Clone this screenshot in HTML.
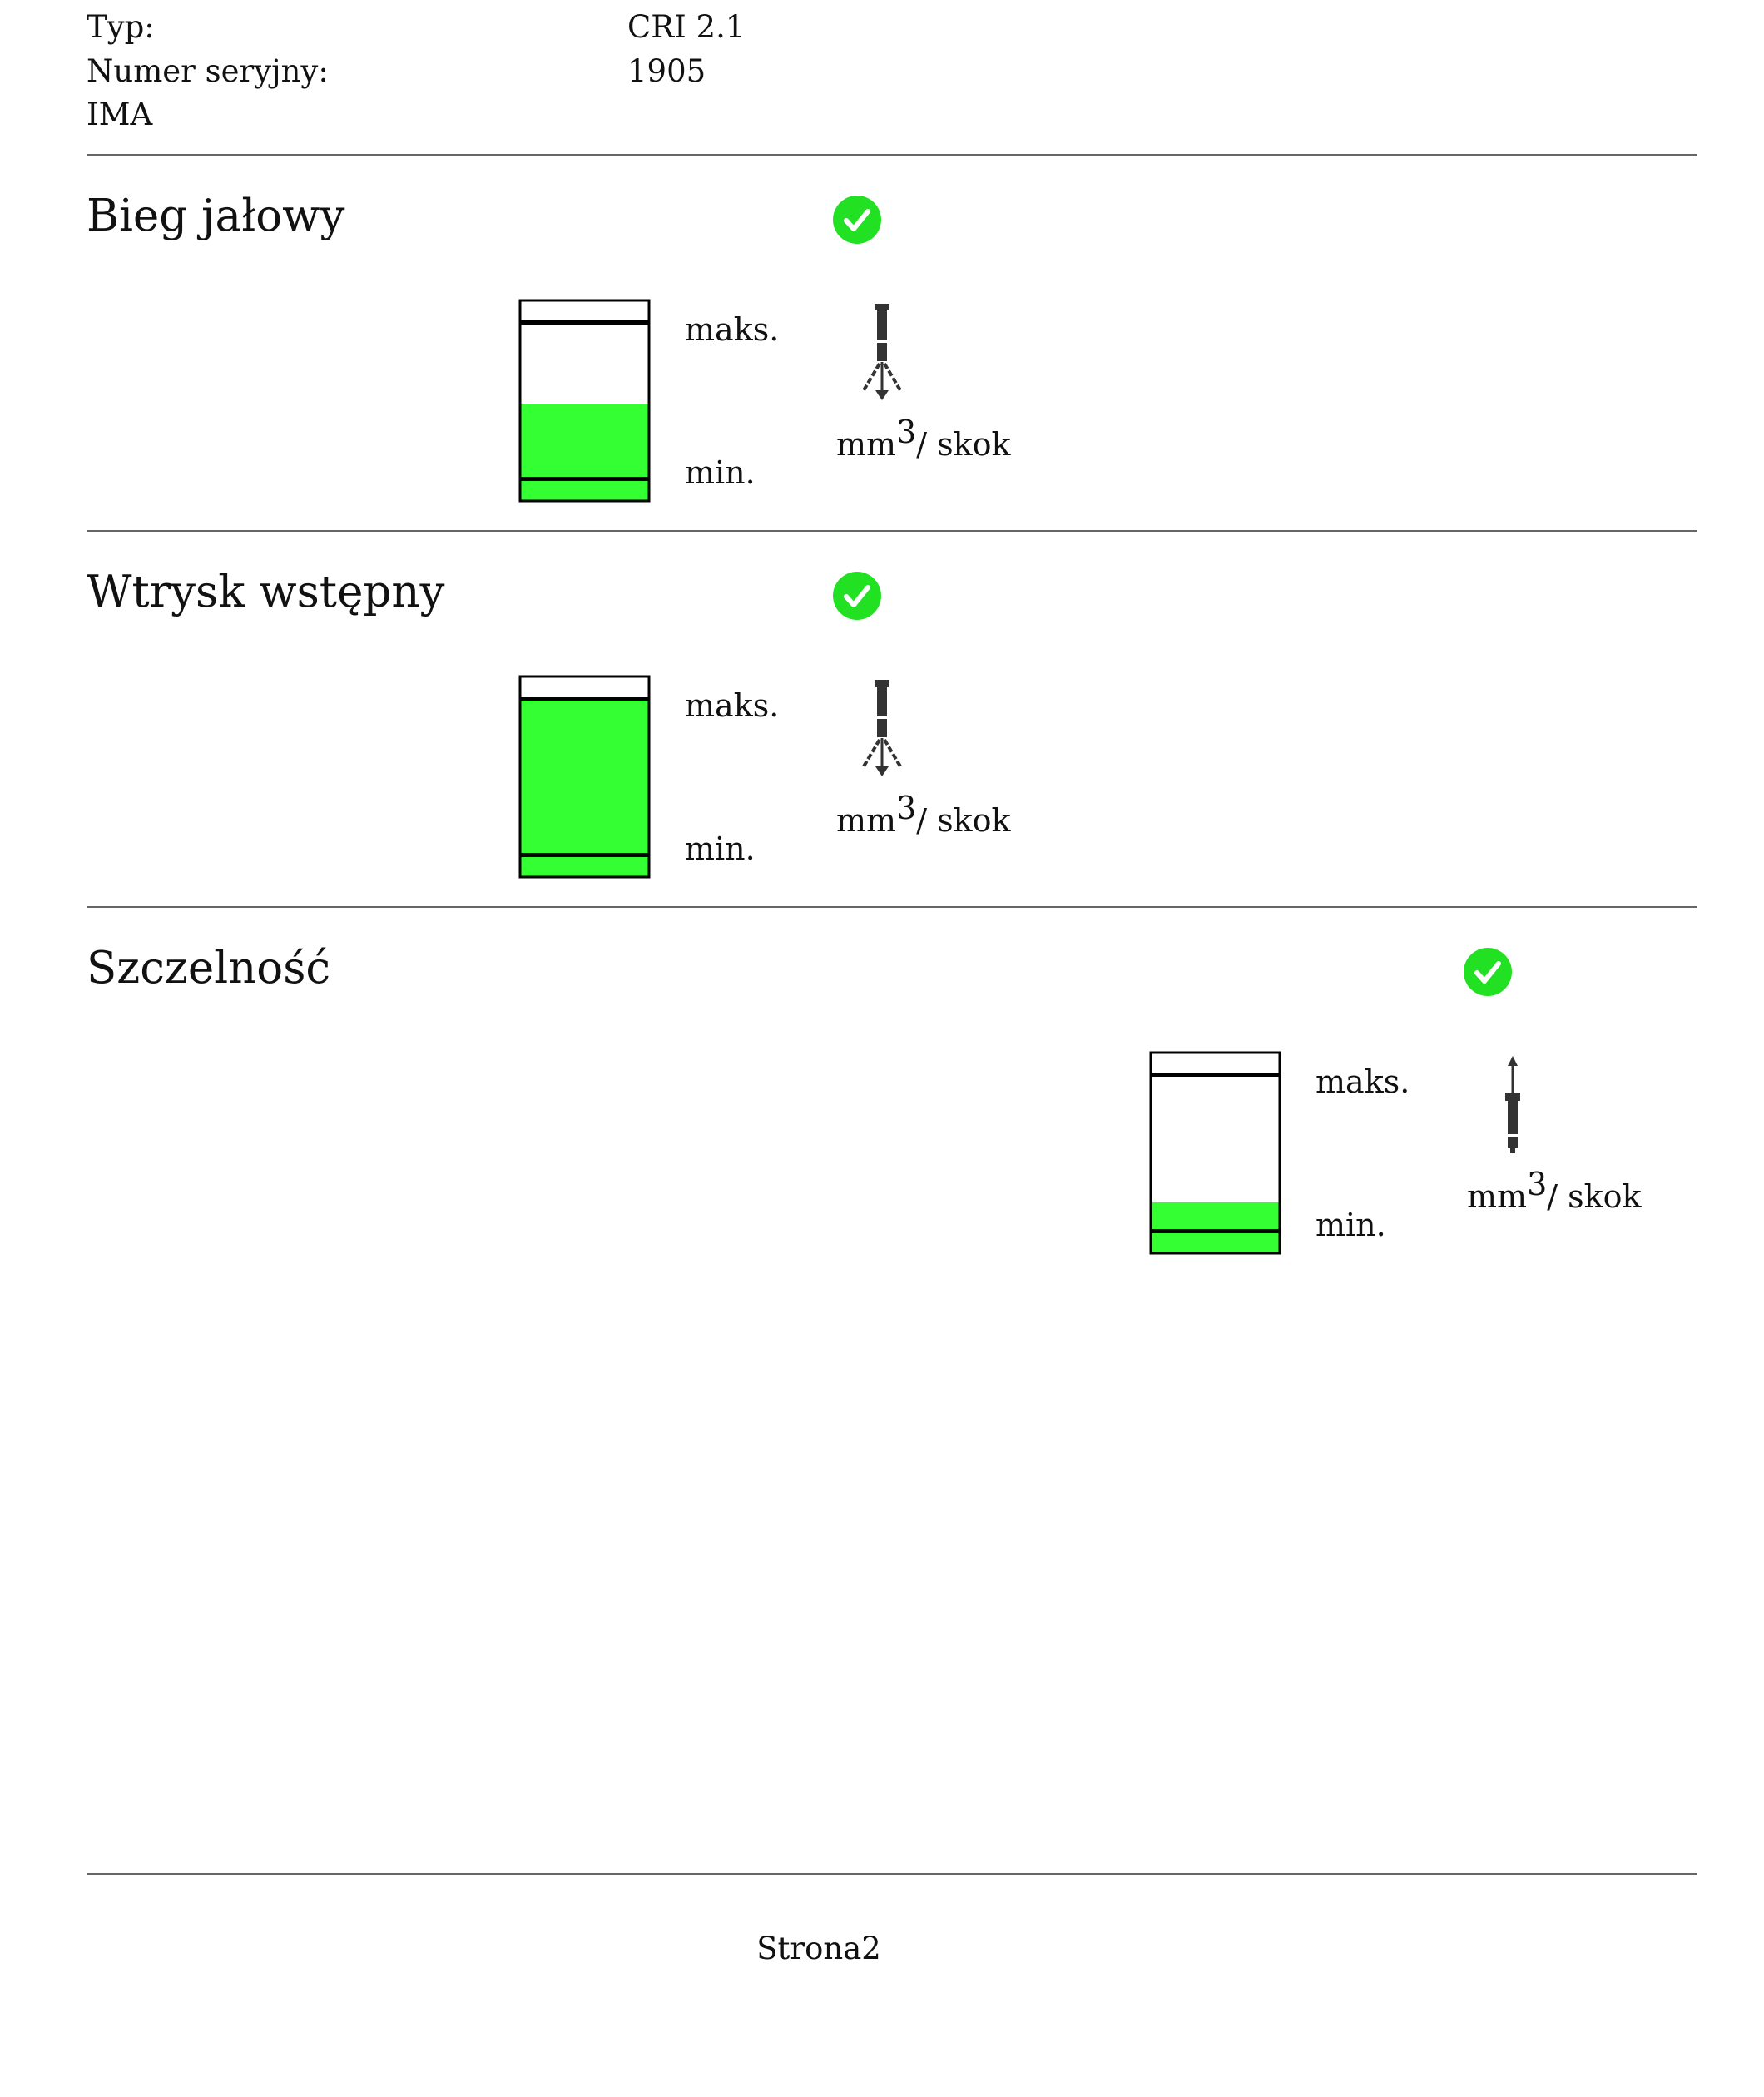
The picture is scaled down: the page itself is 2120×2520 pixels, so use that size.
<!DOCTYPE html>
<html><head><meta charset="utf-8"><style>
html,body{margin:0;padding:0;background:#fff;}
svg{display:block;}
text{font-family:"DejaVu Serif","Liberation Serif",serif;fill:#111;}
</style></head><body>
<svg width="2120" height="2520" viewBox="0 0 2120 2520" xmlns="http://www.w3.org/2000/svg">
<defs>
<g id="chk">
<circle cx="0" cy="0" r="29" fill="#22e022"/>
<path d="M-13,1 L-4,11 L13,-10" fill="none" stroke="#fff" stroke-width="6" stroke-linecap="round" stroke-linejoin="round"/>
</g>
<g id="injDown" fill="#333" stroke="#333">
<rect x="-9" y="0" width="18" height="8" stroke="none"/>
<rect x="-6" y="6" width="12" height="38" stroke="none"/>
<rect x="-6" y="47" width="12" height="22" stroke="none"/>
<line x1="0" y1="70" x2="0" y2="108" stroke-width="3"/>
<line x1="-3" y1="72" x2="-22" y2="104" stroke-width="4" stroke-dasharray="7,3"/>
<line x1="3" y1="72" x2="22" y2="104" stroke-width="4" stroke-dasharray="7,3"/>
<path d="M-8,104 L8,104 L0,116 Z" stroke="none"/>
</g>
<g id="injUp" fill="#333" stroke="#333">
<path d="M-6,12 L6,12 L0,0 Z" stroke="none"/>
<line x1="0" y1="10" x2="0" y2="45" stroke-width="3"/>
<rect x="-9" y="44" width="18" height="10" stroke="none"/>
<rect x="-6" y="52" width="12" height="42" stroke="none"/>
<rect x="-6" y="97" width="12" height="14" stroke="none"/>
<rect x="-3" y="108" width="6" height="9" stroke="none"/>
</g>
</defs>

<text x="104" y="45" font-size="37">Typ:</text>
<text x="754" y="45" font-size="37">CRI 2.1</text>
<text x="104" y="98" font-size="37">Numer seryjny:</text>
<text x="754" y="98" font-size="37">1905</text>
<text x="104" y="150" font-size="37">IMA</text>

<rect x="104" y="185" width="1935" height="2" fill="#666"/>

<!-- Section 1 -->
<text x="104" y="277" font-size="53">Bieg jałowy</text>
<use href="#chk" x="1030" y="264"/>
<rect x="625" y="485" width="155" height="117" fill="#33ff33"/>
<rect x="625" y="361" width="155" height="241" fill="none" stroke="#000" stroke-width="3"/>
<rect x="625" y="385" width="155" height="5" fill="#000"/>
<rect x="625" y="573" width="155" height="5" fill="#000"/>
<text x="823" y="409" font-size="38">maks.</text>
<text x="823" y="581" font-size="38">min.</text>
<use href="#injDown" x="1060" y="365"/>
<text x="1005" y="547" font-size="38">mm<tspan dy="-15">3</tspan><tspan dy="15">/ skok</tspan></text>

<rect x="104" y="637" width="1935" height="2" fill="#666"/>

<!-- Section 2 -->
<g transform="translate(0,452)">
<text x="104" y="277" font-size="53">Wtrysk wstępny</text>
<use href="#chk" x="1030" y="264"/>
<rect x="625" y="387" width="155" height="215" fill="#33ff33"/>
<rect x="625" y="361" width="155" height="241" fill="none" stroke="#000" stroke-width="3"/>
<rect x="625" y="385" width="155" height="5" fill="#000"/>
<rect x="625" y="573" width="155" height="5" fill="#000"/>
<text x="823" y="409" font-size="38">maks.</text>
<text x="823" y="581" font-size="38">min.</text>
<use href="#injDown" x="1060" y="365"/>
<text x="1005" y="547" font-size="38">mm<tspan dy="-15">3</tspan><tspan dy="15">/ skok</tspan></text>
</g>

<rect x="104" y="1089" width="1935" height="2" fill="#666"/>

<!-- Section 3 -->
<g transform="translate(0,904)">
<text x="104" y="277" font-size="53">Szczelność</text>
</g>
<g transform="translate(758,904)">
<use href="#chk" x="1030" y="264"/>
<rect x="625" y="541" width="155" height="61" fill="#33ff33"/>
<rect x="625" y="361" width="155" height="241" fill="none" stroke="#000" stroke-width="3"/>
<rect x="625" y="385" width="155" height="5" fill="#000"/>
<rect x="625" y="573" width="155" height="5" fill="#000"/>
<text x="823" y="409" font-size="38">maks.</text>
<text x="823" y="581" font-size="38">min.</text>
<use href="#injUp" x="1060" y="365"/>
<text x="1005" y="547" font-size="38">mm<tspan dy="-15">3</tspan><tspan dy="15">/ skok</tspan></text>
</g>

<rect x="104" y="2251" width="1935" height="2" fill="#666"/>
<text x="984" y="2354" font-size="37" text-anchor="middle">Strona2</text>
</svg>
</body></html>
